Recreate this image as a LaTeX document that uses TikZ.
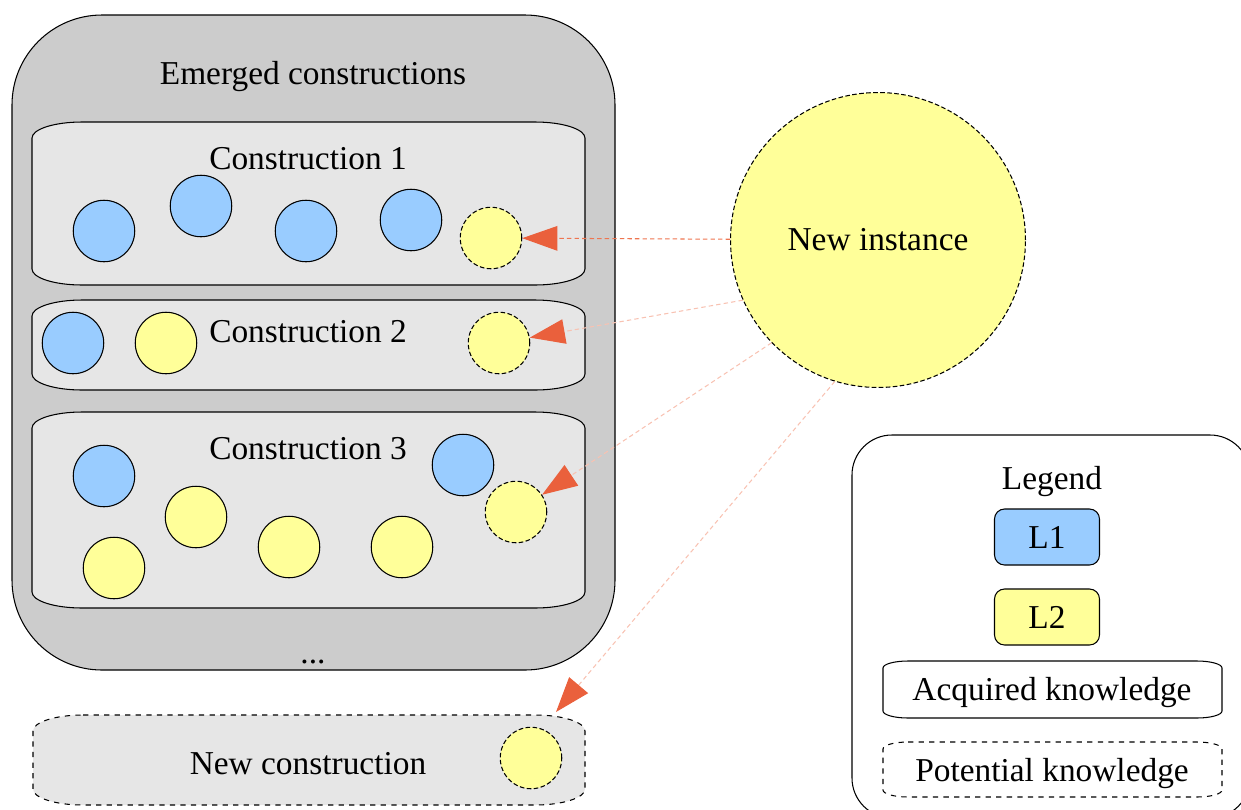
\documentclass[tikz,border=0pt]{standalone}
\usepackage{fontspec}
\setmainfont{Liberation Serif}
\usetikzlibrary{arrows.meta,positioning}

\definecolor{outergray}{HTML}{CCCCCC}
\definecolor{innergray}{HTML}{E6E6E6}
\definecolor{lonecol}{HTML}{99CCFF}
\definecolor{ltwocol}{HTML}{FFFF99}
\definecolor{arrowcol}{HTML}{EA603C}
\definecolor{linecol}{HTML}{EE7550}
\definecolor{fadecol}{HTML}{F8C2B2}

% box with flattened corners: style, x1, y1, x2, y2, rx, ry
\newcommand{\flatbox}[7]{%
  \draw[#1] ({#2+#6},#3) -- ({#4-#6},#3)
    arc[start angle=90,end angle=0,x radius={#6*0.02cm},y radius={#7*0.02cm}]
    -- (#4,{#5+#7})
    arc[start angle=0,end angle=-90,x radius={#6*0.02cm},y radius={#7*0.02cm}]
    -- ({#2+#6},#5)
    arc[start angle=270,end angle=180,x radius={#6*0.02cm},y radius={#7*0.02cm}]
    -- (#2,{#3-#7})
    arc[start angle=180,end angle=90,x radius={#6*0.02cm},y radius={#7*0.02cm}]
    -- cycle;}

\begin{document}
\begin{tikzpicture}[x=0.02cm,y=0.02cm,line width=0.6pt,
    txt/.style={font=\fontsize{19}{22}\selectfont,anchor=base,inner sep=0pt},
    lone/.style={circle,draw,fill=lonecol,minimum size=1.23cm,inner sep=0pt},
    ltwo/.style={lone,fill=ltwocol},
    lnew/.style={ltwo,dash pattern=on 2.6pt off 1.4pt},
    feed/.style={draw=linecol,dash pattern=on 2.5pt off 1.8pt,
      -{Triangle[length=20pt,width=14pt,color=arrowcol]}},
    faint/.style={feed,draw=fadecol}]
  \useasboundingbox (0,0) rectangle (1241,-809);
  % Containers
  \draw[fill=outergray,rounded corners=1.8cm] (12,-15) rectangle (615,-670);
  \flatbox{draw,fill=innergray}{32}{-122}{585}{-285}{50}{16}
  \flatbox{draw,fill=innergray}{32}{-300}{585}{-390}{50}{16}
  \flatbox{draw,fill=innergray}{32}{-412}{585}{-608}{50}{16}
  \flatbox{draw,fill=innergray,dashed}{33}{-715}{585}{-805}{50}{16}
  \node[txt] (emerged) at (313,-84) {Emerged constructions};
  \node[txt] (cone) at (308,-169) {Construction 1};
  \node[txt] (ctwo) at (308,-342) {Construction 2};
  \node[txt] (cthree) at (308,-459) {Construction 3};
  \node[txt] (dots) at (313,-663) {...};
  \node[txt] (newcons) at (308,-774) {New construction};
  % Construction 1
  \node[lone] (c1a) at (104,-231) {};
  \node[lone] (c1b) at (201,-206) {};
  \node[lone] (c1c) at (306,-231) {};
  \node[lone] (c1d) at (411,-220) {};
  \node[lnew] (c1e) at (491,-238) {};
  % Construction 2
  \node[lone] (c2a) at (73,-343) {};
  \node[ltwo] (c2b) at (166,-343) {};
  \node[lnew] (c2c) at (499,-343) {};
  % Construction 3
  \node[lone] (c3a) at (104,-476) {};
  \node[ltwo] (c3b) at (196,-517) {};
  \node[ltwo] (c3c) at (114,-568) {};
  \node[ltwo] (c3d) at (289,-547) {};
  \node[ltwo] (c3e) at (402,-547) {};
  \node[lone] (c3f) at (463,-465) {};
  \node[lnew] (c3g) at (516,-512) {};
  % New construction
  \node[lnew] (nc) at (531,-758) {};
  % New instance
  \node[circle,draw,dash pattern=on 2.6pt off 1.4pt,fill=ltwocol,minimum size=5.9cm,
    font=\fontsize{19}{22}\selectfont] (ni) at (878,-240) {New instance};
  \coordinate (nctip) at (556,-712);
  \draw[feed] (ni) -- (c1e);
  \draw[faint] (ni.204) -- (c2c);
  \draw[faint] (ni.224) -- (c3g);
  \draw[faint] (ni.253) -- (nctip);
  % Legend
  \draw[fill=white,rounded corners=0.8cm] (852,-435) rectangle (1250,-818);
  \node[txt] (legend) at (1052,-489) {Legend};
  \node[draw,fill=lonecol,rounded corners=0.2cm,minimum width=2.1cm,minimum height=1.12cm,
    font=\fontsize{19}{22}\selectfont] (lgone) at (1047,-537) {L1};
  \node[draw,fill=ltwocol,rounded corners=0.2cm,minimum width=2.1cm,minimum height=1.12cm,
    font=\fontsize{19}{22}\selectfont] (lgtwo) at (1047,-617) {L2};
  \flatbox{draw,fill=white}{883}{-661}{1222}{-718}{25}{7}
  \flatbox{draw,fill=white,dashed}{883}{-742}{1222}{-797}{25}{7}
  \node[txt] (acq) at (1052,-700) {Acquired knowledge};
  \node[txt] (pot) at (1052,-781) {Potential knowledge};
\end{tikzpicture}
\end{document}
